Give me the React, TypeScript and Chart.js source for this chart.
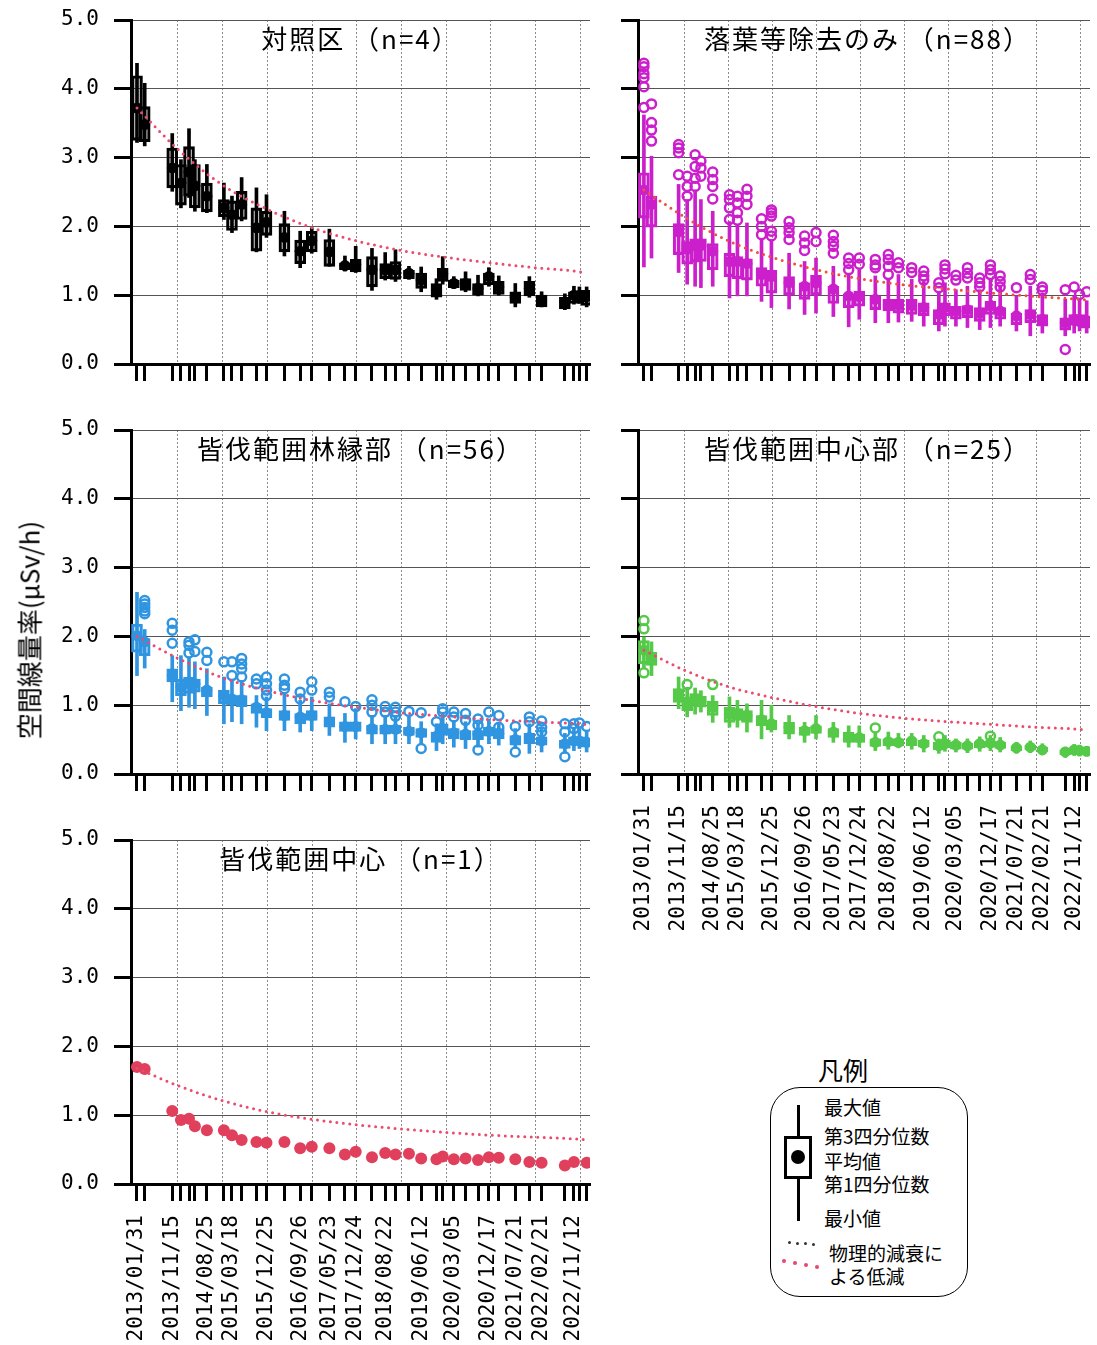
import React, { useEffect, useRef } from 'react';
import { Chart, registerables } from 'chart.js';

Chart.register(...registerables);

// ---------------- data ----------------
const dates = [
  '2013/01/31', '2013/04/04', '2013/11/15', '2014/01/25', '2014/04/01', '2014/05/19', '2014/08/25',
  '2015/01/11', '2015/03/18', '2015/06/05', '2015/10/04', '2015/12/25', '2016/05/20', '2016/09/26',
  '2016/12/30', '2017/05/23', '2017/09/27', '2017/12/24', '2018/05/06', '2018/08/22', '2018/11/14',
  '2019/03/04', '2019/06/12', '2019/10/15', '2019/12/05', '2020/03/05', '2020/06/09', '2020/09/19',
  '2020/12/17', '2021/03/08', '2021/07/21', '2021/11/13', '2022/02/21', '2022/08/30', '2022/11/12',
  '2022/12/27', '2023/02/24',
];

const labeledDates = [
  '2013/01/31', '2013/11/15', '2014/08/25', '2015/03/18', '2015/12/25', '2016/09/26', '2017/05/23',
  '2017/12/24', '2018/08/22', '2019/06/12', '2020/03/05', '2020/12/17', '2021/07/21', '2022/02/21',
  '2022/11/12',
];

const yTickValues = [0, 1, 2, 3, 4, 5];
const yearGridLines = [2014, 2015, 2016, 2017, 2018, 2019, 2020, 2021, 2022, 2023];
const X_MIN = 2012.948;
const X_MAX = 2023.223;

const decayDates = [
  '2013/01/31', '2014/01/01', '2015/01/01', '2016/01/01', '2017/01/01', '2018/01/01',
  '2019/01/01', '2020/01/01', '2021/01/01', '2022/01/01', '2023/01/01', '2023/02/24',
];

// 対照区 (n=4)
const ctrlMax = [4.37, 4.08, 3.35, 2.97, 3.42, 2.97, 2.90, 2.63, 2.44, 2.71, 2.56, 2.46, 2.22, 1.93, 1.98, 1.96, 1.57, 1.71, 1.68, 1.62, 1.66, 1.42, 1.41, 1.24, 1.56, 1.27, 1.34, 1.29, 1.40, 1.28, 1.17, 1.27, 1.05, 1.02, 1.13, 1.12, 1.12];
const ctrlQ3 = [4.19, 3.74, 3.14, 2.90, 3.16, 2.90, 2.63, 2.39, 2.37, 2.51, 2.27, 2.22, 2.04, 1.80, 1.93, 1.81, 1.47, 1.52, 1.56, 1.46, 1.49, 1.36, 1.32, 1.17, 1.39, 1.22, 1.24, 1.17, 1.32, 1.20, 1.05, 1.20, 1.00, 0.97, 1.05, 1.05, 1.07];
const ctrlMean = [3.72, 3.48, 2.85, 2.63, 2.79, 2.59, 2.44, 2.27, 2.17, 2.32, 1.98, 2.06, 1.84, 1.64, 1.79, 1.63, 1.43, 1.45, 1.37, 1.37, 1.37, 1.32, 1.22, 1.07, 1.31, 1.17, 1.17, 1.10, 1.27, 1.12, 0.97, 1.10, 0.93, 0.90, 1.00, 1.00, 0.98];
const ctrlQ1 = [3.25, 3.23, 2.56, 2.31, 2.44, 2.27, 2.21, 2.14, 1.94, 2.10, 1.64, 1.87, 1.63, 1.46, 1.63, 1.42, 1.37, 1.34, 1.12, 1.24, 1.23, 1.24, 1.10, 0.97, 1.20, 1.11, 1.07, 1.00, 1.15, 1.01, 0.88, 0.99, 0.83, 0.80, 0.88, 0.90, 0.85];
const ctrlMin = [3.22, 3.17, 2.51, 2.27, 2.42, 2.22, 2.20, 2.10, 1.91, 2.08, 1.63, 1.84, 1.57, 1.40, 1.61, 1.42, 1.35, 1.33, 1.07, 1.22, 1.20, 1.23, 1.05, 0.94, 1.16, 1.10, 1.05, 0.99, 1.13, 1.00, 0.83, 0.97, 0.83, 0.79, 0.87, 0.88, 0.83];
const ctrlOutliers: number[][] = dates.map(() => []);
const ctrlDecay = [3.72, 3.12, 2.60, 2.25, 1.98, 1.79, 1.65, 1.55, 1.47, 1.40, 1.34, 1.32];

// 落葉等除去のみ (n=88)
const leafMax = [3.62, 3.02, 2.61, 2.39, 2.53, 2.39, 2.22, 2.07, 2.03, 2.05, 1.81, 1.81, 1.61, 1.49, 1.54, 1.42, 1.32, 1.37, 1.28, 1.23, 1.30, 1.23, 1.20, 1.05, 1.18, 1.08, 1.13, 1.08, 1.23, 1.13, 0.99, 1.13, 1.03, 0.94, 0.99, 0.94, 0.92];
const leafQ3 = [2.78, 2.44, 2.04, 1.78, 1.82, 1.82, 1.75, 1.61, 1.56, 1.53, 1.40, 1.36, 1.27, 1.18, 1.29, 1.13, 1.02, 1.06, 0.99, 0.94, 0.94, 0.94, 0.89, 0.79, 0.89, 0.84, 0.85, 0.82, 0.91, 0.82, 0.74, 0.79, 0.72, 0.67, 0.72, 0.72, 0.70];
const leafMean = [2.53, 2.32, 1.92, 1.67, 1.72, 1.72, 1.64, 1.49, 1.49, 1.46, 1.30, 1.27, 1.18, 1.13, 1.18, 1.09, 0.99, 0.98, 0.94, 0.86, 0.86, 0.85, 0.82, 0.72, 0.82, 0.77, 0.79, 0.74, 0.84, 0.77, 0.70, 0.72, 0.65, 0.60, 0.65, 0.62, 0.62];
const leafQ1 = [2.12, 1.99, 1.59, 1.45, 1.48, 1.49, 1.37, 1.27, 1.24, 1.22, 1.13, 1.03, 1.00, 0.94, 1.00, 0.88, 0.82, 0.84, 0.79, 0.77, 0.74, 0.72, 0.70, 0.57, 0.70, 0.65, 0.67, 0.62, 0.72, 0.65, 0.57, 0.60, 0.55, 0.49, 0.56, 0.55, 0.52];
const leafMin = [1.41, 1.54, 1.33, 1.16, 1.13, 1.11, 1.13, 0.96, 0.99, 0.99, 0.91, 0.82, 0.80, 0.72, 0.74, 0.69, 0.54, 0.65, 0.60, 0.60, 0.61, 0.62, 0.55, 0.48, 0.55, 0.55, 0.53, 0.50, 0.53, 0.55, 0.48, 0.41, 0.45, 0.41, 0.45, 0.48, 0.45];
const leafOutliers = [
  [4.37, 4.32, 4.22, 4.16, 4.03, 3.73], [3.78, 3.51, 3.40, 3.24], [3.19, 3.14, 3.07, 2.75], [2.73, 2.58, 2.44],
  [3.04, 2.87, 2.70, 2.58], [2.95, 2.85, 2.73], [2.79, 2.68, 2.58, 2.40], [2.46, 2.39, 2.27, 2.10],
  [2.44, 2.34, 2.20, 2.09], [2.54, 2.44, 2.32], [2.11, 2.00, 1.88], [2.24, 2.20, 2.15, 1.93, 1.86],
  [2.07, 1.98, 1.91, 1.81], [1.86, 1.76, 1.65], [1.91, 1.78], [1.87, 1.78, 1.71, 1.61], [1.54, 1.46, 1.37],
  [1.54, 1.45], [1.52, 1.44, 1.40], [1.59, 1.52, 1.42, 1.30], [1.47, 1.40], [1.40, 1.33], [1.35, 1.28, 1.22],
  [1.18, 1.11], [1.44, 1.38, 1.31], [1.29, 1.22], [1.40, 1.32, 1.25], [1.25, 1.18, 1.12], [1.44, 1.37, 1.30],
  [1.28, 1.20, 1.12], [1.11], [1.30, 1.23], [1.12, 1.07], [1.08, 0.21], [1.12], [1.01], [1.05],
];
const leafDecay = [2.53, 2.14, 1.79, 1.55, 1.37, 1.24, 1.15, 1.09, 1.03, 0.98, 0.94, 0.93];

// 皆伐範囲林縁部 (n=56)
const edgeMax = [2.64, 2.10, 1.72, 1.72, 1.70, 1.63, 1.53, 1.41, 1.36, 1.36, 1.14, 1.12, 1.17, 1.07, 1.12, 1.02, 0.88, 0.95, 0.85, 0.85, 0.85, 0.83, 0.76, 0.73, 0.88, 0.78, 0.76, 0.73, 0.80, 0.73, 0.66, 0.73, 0.66, 0.59, 0.66, 0.66, 0.61];
const edgeQ3 = [2.18, 1.97, 1.53, 1.38, 1.41, 1.38, 1.26, 1.22, 1.14, 1.14, 1.02, 0.95, 0.92, 0.88, 0.92, 0.83, 0.76, 0.76, 0.71, 0.71, 0.71, 0.68, 0.66, 0.61, 0.73, 0.66, 0.63, 0.63, 0.68, 0.66, 0.56, 0.59, 0.54, 0.49, 0.54, 0.54, 0.51];
const edgeMean = [2.01, 1.92, 1.43, 1.26, 1.31, 1.31, 1.22, 1.14, 1.09, 1.08, 0.97, 0.89, 0.85, 0.83, 0.85, 0.76, 0.69, 0.69, 0.66, 0.65, 0.65, 0.62, 0.60, 0.55, 0.66, 0.60, 0.58, 0.58, 0.62, 0.59, 0.50, 0.53, 0.48, 0.44, 0.48, 0.48, 0.46];
const edgeQ1 = [1.77, 1.72, 1.34, 1.14, 1.17, 1.19, 1.12, 1.02, 1.00, 0.98, 0.88, 0.82, 0.78, 0.73, 0.78, 0.68, 0.62, 0.62, 0.58, 0.58, 0.59, 0.56, 0.53, 0.46, 0.56, 0.51, 0.50, 0.50, 0.55, 0.51, 0.42, 0.44, 0.42, 0.37, 0.42, 0.42, 0.39];
const edgeMin = [1.43, 1.54, 1.05, 0.92, 0.97, 0.95, 0.85, 0.73, 0.76, 0.73, 0.68, 0.63, 0.63, 0.61, 0.63, 0.56, 0.46, 0.51, 0.44, 0.44, 0.44, 0.44, 0.44, 0.34, 0.44, 0.39, 0.37, 0.39, 0.44, 0.42, 0.37, 0.30, 0.32, 0.30, 0.34, 0.37, 0.32];
const edgeOutliers = [
  [], [2.52, 2.47, 2.42, 2.37, 2.33], [2.19, 2.09, 1.90], [], [1.92, 1.87, 1.76], [1.95, 1.78], [1.77, 1.65],
  [1.63], [1.63, 1.43], [1.68, 1.60, 1.53, 1.41], [1.38, 1.31], [1.41, 1.31, 1.22, 1.14], [1.38, 1.29, 1.24],
  [1.19, 1.09], [1.34, 1.22], [1.19, 1.12], [1.05], [0.98], [1.08, 1.00, 0.90], [0.98, 0.90], [0.97, 0.90, 0.84],
  [0.91], [0.89, 0.37], [0.76], [0.95, 0.90], [0.90, 0.83], [0.88, 0.78], [0.80, 0.71, 0.35], [0.90],
  [0.85, 0.68], [0.69, 0.32], [0.83, 0.76], [0.77, 0.68, 0.61], [0.73, 0.61, 0.25], [0.73, 0.66], [0.74], [0.69],
];
const edgeDecay = [2.00, 1.68, 1.40, 1.21, 1.07, 0.97, 0.89, 0.84, 0.79, 0.76, 0.73, 0.72];

// 皆伐範囲中心部 (n=25)
const centerMax = [1.99, 1.92, 1.41, 1.26, 1.25, 1.21, 1.14, 1.12, 1.07, 1.02, 1.07, 1.00, 0.85, 0.75, 0.85, 0.75, 0.70, 0.70, 0.61, 0.61, 0.59, 0.59, 0.56, 0.51, 0.56, 0.51, 0.51, 0.54, 0.56, 0.53, 0.46, 0.48, 0.44, 0.39, 0.43, 0.42, 0.40];
const centerQ3 = [1.94, 1.77, 1.24, 1.12, 1.17, 1.13, 1.06, 0.97, 0.95, 0.92, 0.85, 0.78, 0.75, 0.68, 0.70, 0.66, 0.61, 0.58, 0.51, 0.51, 0.51, 0.51, 0.49, 0.46, 0.49, 0.46, 0.45, 0.47, 0.48, 0.46, 0.41, 0.42, 0.39, 0.35, 0.38, 0.37, 0.36];
const centerMean = [1.80, 1.67, 1.14, 1.02, 1.09, 1.06, 0.97, 0.87, 0.87, 0.85, 0.79, 0.73, 0.68, 0.63, 0.66, 0.61, 0.53, 0.53, 0.46, 0.47, 0.46, 0.48, 0.44, 0.41, 0.44, 0.42, 0.41, 0.44, 0.45, 0.42, 0.38, 0.39, 0.35, 0.32, 0.35, 0.34, 0.33];
const centerQ1 = [1.60, 1.58, 1.04, 0.92, 1.00, 0.97, 0.85, 0.75, 0.78, 0.75, 0.70, 0.64, 0.58, 0.56, 0.59, 0.53, 0.46, 0.46, 0.40, 0.41, 0.41, 0.41, 0.39, 0.35, 0.38, 0.36, 0.36, 0.38, 0.39, 0.37, 0.34, 0.35, 0.32, 0.28, 0.31, 0.30, 0.29];
const centerMin = [1.55, 1.43, 0.95, 0.83, 0.87, 0.90, 0.75, 0.68, 0.68, 0.61, 0.51, 0.61, 0.51, 0.46, 0.51, 0.46, 0.39, 0.39, 0.34, 0.36, 0.38, 0.36, 0.32, 0.30, 0.33, 0.32, 0.31, 0.33, 0.34, 0.32, 0.30, 0.31, 0.28, 0.24, 0.27, 0.26, 0.26];
const centerOutliers = [
  [2.23, 2.11, 1.47], [], [], [1.30], [], [], [1.30], [], [], [], [], [], [], [], [], [], [], [], [0.67], [], [],
  [], [], [0.54], [], [], [], [], [0.55], [], [], [], [], [], [], [], [],
];
const centerDecay = [1.80, 1.51, 1.27, 1.11, 0.98, 0.88, 0.81, 0.76, 0.72, 0.68, 0.65, 0.64];

// 皆伐範囲中心 (n=1)
const singleValues = [1.70, 1.67, 1.06, 0.93, 0.95, 0.84, 0.78, 0.78, 0.71, 0.64, 0.61, 0.60, 0.61, 0.52, 0.54, 0.52, 0.43, 0.47, 0.39, 0.45, 0.43, 0.44, 0.37, 0.36, 0.40, 0.36, 0.37, 0.35, 0.39, 0.38, 0.36, 0.32, 0.31, 0.27, 0.32, null, 0.31];
const singleDecay = [1.68, 1.43, 1.21, 1.05, 0.94, 0.86, 0.80, 0.75, 0.71, 0.68, 0.65, 0.64];

// ---------------- helpers ----------------
function toYear(s: string): number {
  const [y, m, d] = s.split('/').map(Number);
  const start = Date.UTC(y, 0, 1);
  const end = Date.UTC(y + 1, 0, 1);
  return y + (Date.UTC(y, m - 1, d) - start) / (end - start);
}

type PanelSpec = {
  key: string;
  title: string;
  left: number;
  top: number;
  w: number;
  h: number;
  padRight: number;
  axisH: number;
  showXLabels: boolean;
  showYLabels: boolean;
  color: string;
  decayColor: string;
  decay: number[];
  boxLine: number;
  outlierR: number;
  box?: { max: number[]; q3: number[]; mean: number[]; q1: number[]; min: number[]; out: number[][] };
  single?: (number | null)[];
};

const TICK_FONT = { family: '"DejaVu Sans Mono", monospace', size: 21 };

function makeConfig(p: PanelSpec): any {
  const xs = dates.map(toYear);
  const datasets: any[] = [];
  datasets.push({
    type: 'line',
    data: decayDates.map((d, i) => ({ x: toYear(d), y: p.decay[i] })),
    borderColor: p.decayColor,
    borderWidth: 3,
    borderDash: [0, 6.5],
    borderCapStyle: 'round',
    pointRadius: 0,
    cubicInterpolationMode: 'monotone',
    fill: false,
    order: 0,
  });
  if (p.box) {
    const b = p.box;
    datasets.push({
      type: 'scatter',
      data: xs.map((x, i) => ({ x, y: b.mean[i] })),
      pointRadius: 5.5,
      pointBackgroundColor: p.color,
      pointBorderWidth: 0,
      order: 1,
    });
    const outPts: { x: number; y: number }[] = [];
    b.out.forEach((arr, i) => arr.forEach((v) => outPts.push({ x: xs[i], y: v })));
    datasets.push({
      type: 'scatter',
      data: outPts,
      pointRadius: p.outlierR,
      pointBackgroundColor: 'rgba(255,255,255,0)',
      pointBorderColor: p.color,
      pointBorderWidth: 2.5,
      order: 2,
    });
    datasets.push({
      type: 'bar',
      data: xs.map((x, i) => ({ x, y: [b.q1[i], b.q3[i]] })),
      backgroundColor: 'rgba(255,255,255,0)',
      borderColor: p.color,
      borderWidth: p.boxLine,
      borderSkipped: false,
      barThickness: 11,
      grouped: false,
      order: 3,
    });
    datasets.push({
      type: 'bar',
      data: xs.map((x, i) => ({ x, y: [b.min[i], b.max[i]] })),
      backgroundColor: p.color,
      borderWidth: 0,
      barThickness: 3,
      grouped: false,
      order: 4,
    });
  }
  if (p.single) {
    const s = p.single;
    datasets.push({
      type: 'scatter',
      data: xs.map((x, i) => ({ x, y: s[i] })).filter((pt) => pt.y !== null),
      pointRadius: 6,
      pointBackgroundColor: p.color,
      pointBorderWidth: 0,
      order: 1,
    });
  }

  return {
    type: 'scatter',
    data: { datasets },
    options: {
      responsive: false,
      maintainAspectRatio: false,
      animation: false,
      events: [],
      layout: { padding: { top: 20, right: p.padRight, bottom: 0, left: 0 } },
      plugins: { legend: { display: false }, tooltip: { enabled: false }, title: { display: false } },
      scales: {
        x: {
          type: 'linear',
          position: 'bottom',
          min: X_MIN,
          max: X_MAX,
          bounds: 'data',
          offset: false,
          afterBuildTicks: (s: any) => {
            s.ticks = xs.map((v) => ({ value: v }));
          },
          ticks: {
            display: p.showXLabels,
            autoSkip: false,
            minRotation: 90,
            maxRotation: 90,
            padding: 14,
            color: '#000',
            font: TICK_FONT,
            callback: (_v: any, i: number) => (labeledDates.includes(dates[i]) ? dates[i] : ''),
          },
          grid: { drawOnChartArea: false, offset: false, tickColor: '#000', tickWidth: 3, tickLength: 17 },
          border: { display: true, color: '#000', width: 3 },
          afterFit: (s: any) => {
            s.height = p.axisH;
            s.paddingLeft = 0;
            s.paddingRight = 0;
            s.paddingTop = 0;
            s.paddingBottom = 0;
          },
        },
        xg: {
          type: 'linear',
          axis: 'x',
          position: 'bottom',
          min: X_MIN,
          max: X_MAX,
          bounds: 'data',
          offset: false,
          afterBuildTicks: (s: any) => {
            s.ticks = yearGridLines.map((v) => ({ value: v }));
          },
          ticks: { display: false },
          grid: { drawTicks: false, color: '#8a8a8a', lineWidth: 1 },
          border: { display: false, dash: [2, 2] },
          afterFit: (s: any) => {
            s.height = 0;
            s.paddingLeft = 0;
            s.paddingRight = 0;
            s.paddingTop = 0;
            s.paddingBottom = 0;
          },
        },
        y: {
          type: 'linear',
          min: 0,
          max: 5,
          bounds: 'data',
          afterBuildTicks: (s: any) => {
            s.ticks = yTickValues.map((v) => ({ value: v }));
          },
          ticks: {
            display: p.showYLabels,
            padding: 15,
            color: '#000',
            font: TICK_FONT,
            callback: (v: any) => Number(v).toFixed(1),
          },
          grid: { color: '#555', lineWidth: 1, tickColor: '#000', tickWidth: 3, tickLength: 17 },
          border: { display: true, color: '#000', width: 3 },
          afterFit: (s: any) => {
            s.width = 131;
            s.paddingTop = 0;
            s.paddingBottom = 0;
            s.paddingLeft = 0;
            s.paddingRight = 0;
          },
        },
      },
    },
  };
}

const panels: PanelSpec[] = [
  {
    key: 'ctrl', title: '対照区 （n=4）', left: 0, top: 0, w: 600, h: 400, padRight: 10, axisH: 36,
    showXLabels: false, showYLabels: true, color: '#000000', decayColor: '#ec4a6e', decay: ctrlDecay,
    boxLine: 2.5, outlierR: 4,
    box: { max: ctrlMax, q3: ctrlQ3, mean: ctrlMean, q1: ctrlQ1, min: ctrlMin, out: ctrlOutliers },
  },
  {
    key: 'leaf', title: '落葉等除去のみ （n=88）', left: 507, top: 0, w: 590, h: 400, padRight: 0, axisH: 36,
    showXLabels: false, showYLabels: false, color: '#cc1fcc', decayColor: '#ef5040', decay: leafDecay,
    boxLine: 2.5, outlierR: 4.5,
    box: { max: leafMax, q3: leafQ3, mean: leafMean, q1: leafQ1, min: leafMin, out: leafOutliers },
  },
  {
    key: 'edge', title: '皆伐範囲林縁部 （n=56）', left: 0, top: 410, w: 600, h: 400, padRight: 10, axisH: 36,
    showXLabels: false, showYLabels: true, color: '#2f95e0', decayColor: '#ec4a6e', decay: edgeDecay,
    boxLine: 2.5, outlierR: 4.5,
    box: { max: edgeMax, q3: edgeQ3, mean: edgeMean, q1: edgeQ1, min: edgeMin, out: edgeOutliers },
  },
  {
    key: 'center', title: '皆伐範囲中心部 （n=25）', left: 507, top: 410, w: 590, h: 540, padRight: 0, axisH: 176,
    showXLabels: true, showYLabels: false, color: '#55c948', decayColor: '#ec4a6e', decay: centerDecay,
    boxLine: 2.5, outlierR: 4.5,
    box: { max: centerMax, q3: centerQ3, mean: centerMean, q1: centerQ1, min: centerMin, out: centerOutliers },
  },
  {
    key: 'single', title: '皆伐範囲中心 （n=1）', left: 0, top: 820, w: 600, h: 525, padRight: 10, axisH: 161,
    showXLabels: true, showYLabels: true, color: '#e0405c', decayColor: '#ec4a6e', decay: singleDecay,
    boxLine: 2.5, outlierR: 4, single: singleValues,
  },
];

const CJK = '"Noto Sans CJK JP", "Noto Sans", sans-serif';

function Panel({ spec }: { spec: PanelSpec }) {
  const ref = useRef<HTMLCanvasElement | null>(null);
  useEffect(() => {
    if (!ref.current) return;
    const chart = new Chart(ref.current, makeConfig(spec));
    return () => chart.destroy();
  }, [spec]);
  return (
    <>
      <canvas
        ref={ref}
        width={spec.w}
        height={spec.h}
        style={{ position: 'absolute', left: spec.left, top: spec.top, width: spec.w, height: spec.h }}
      />
      <div
        style={{
          position: 'absolute',
          left: spec.left + 131,
          top: spec.top + 20,
          width: 459,
          height: 34,
          display: 'flex',
          alignItems: 'center',
          justifyContent: 'center',
          fontFamily: CJK,
          fontSize: 26,
          letterSpacing: 2,
          whiteSpace: 'nowrap',
          color: '#000',
          pointerEvents: 'none',
        }}
      >
        {spec.title}
      </div>
    </>
  );
}

function LegendText({ x, y, text }: { x: number; y: number; text: string }) {
  return (
    <div
      style={{
        position: 'absolute',
        left: x,
        top: y - 12,
        height: 24,
        lineHeight: '24px',
        fontFamily: CJK,
        fontSize: 19,
        whiteSpace: 'nowrap',
        color: '#000',
      }}
    >
      {text}
    </div>
  );
}

function Legend() {
  const dots = [0, 1, 2, 3];
  return (
    <>
      <div
        style={{
          position: 'absolute', left: 790, top: 1054, width: 110, height: 30, lineHeight: '30px',
          fontFamily: CJK, fontSize: 25, color: '#000', whiteSpace: 'nowrap', textAlign: 'left', paddingLeft: 28,
        }}
      >
        凡例
      </div>
      <div
        style={{
          position: 'absolute', left: 770, top: 1087, width: 198, height: 210, boxSizing: 'border-box',
          border: '1.5px solid #000', borderRadius: 30,
        }}
      />
      <div style={{ position: 'absolute', left: 796.5, top: 1105, width: 3, height: 116, background: '#000' }} />
      <div
        style={{
          position: 'absolute', left: 784, top: 1136, width: 28, height: 43, boxSizing: 'border-box',
          border: '3px solid #000', background: '#fff',
        }}
      />
      <div style={{ position: 'absolute', left: 791, top: 1150, width: 14, height: 14, borderRadius: 7, background: '#000' }} />
      {dots.map((i) => (
        <div key={'b' + i} style={{ position: 'absolute', left: 788 + i * 8, top: 1241 + i * 0.7, width: 3, height: 3, borderRadius: 2, background: '#333' }} />
      ))}
      {dots.map((i) => (
        <div key={'r' + i} style={{ position: 'absolute', left: 782 + i * 11, top: 1259 + i * 2, width: 3.5, height: 3.5, borderRadius: 2, background: '#e8466e' }} />
      ))}
      <LegendText x={824} y={1107} text="最大値" />
      <LegendText x={824} y={1136} text="第3四分位数" />
      <LegendText x={824} y={1161} text="平均値" />
      <LegendText x={824} y={1184} text="第1四分位数" />
      <LegendText x={824} y={1218} text="最小値" />
      <LegendText x={829} y={1253} text="物理的減衰に" />
      <LegendText x={829} y={1276} text="よる低減" />
    </>
  );
}

export default function App() {
  return (
    <div
      style={{
        position: 'absolute', left: 0, top: 0, width: 1097, height: 1345, overflow: 'hidden',
        background: '#fff', fontFamily: CJK,
      }}
    >
      {panels.map((p) => (
        <Panel key={p.key} spec={p} />
      ))}
      <div
        style={{
          position: 'absolute', left: 28, top: 630, transform: 'translate(-50%, -50%) rotate(-90deg)',
          fontFamily: CJK, fontSize: 26, whiteSpace: 'nowrap', color: '#000',
        }}
      >
        空間線量率(μSv/h)
      </div>
      <Legend />
    </div>
  );
}
